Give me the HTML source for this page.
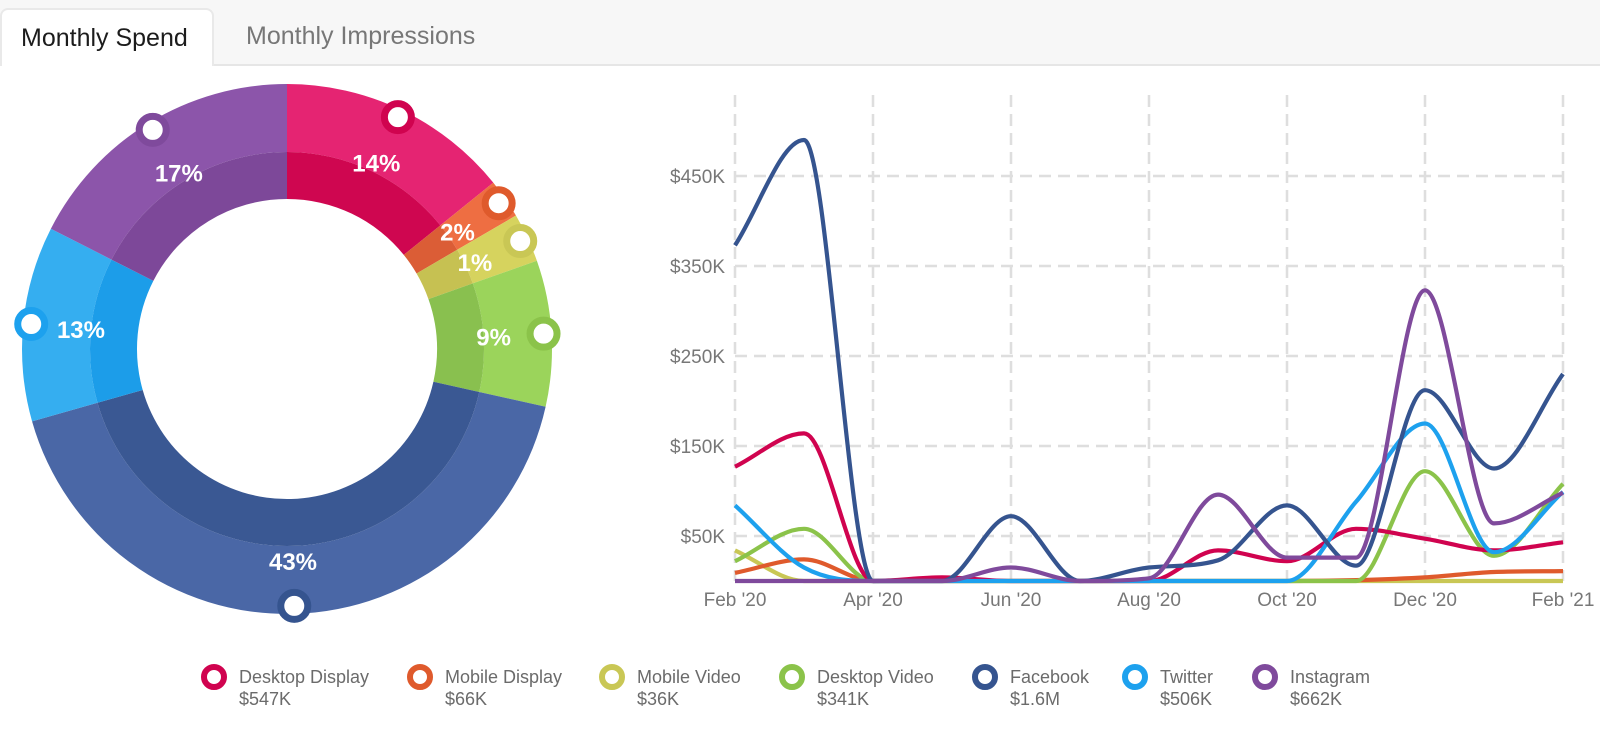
<!DOCTYPE html>
<html><head><meta charset="utf-8"><style>
body{margin:0;width:1600px;height:732px;background:#fff;font-family:"Liberation Sans",sans-serif;overflow:hidden;position:relative}
.tabs{position:absolute;left:0;top:0;width:1600px;height:64px;background:#f7f7f7;border-bottom:2px solid #e6e6e6}
.tab{position:absolute;font-size:25px;line-height:56px}
.tab.active{left:0;top:8px;width:214px;height:58px;background:#fff;border:2px solid #e9e9e9;border-bottom:none;border-radius:8px 8px 0 0;color:#1c1c1c;box-sizing:border-box;padding-left:19px}
.tab.in{left:246px;top:8px;color:#777}
svg{position:absolute;left:0;top:0}
.leg{position:absolute;top:666px;font-size:18px;color:#6b6b6b;line-height:22px}
.leg i{position:absolute;top:-2px;width:14px;height:14px;border:6.5px solid;border-radius:50%}
</style></head><body>
<div class="tabs">
<div class="tab active">Monthly Spend</div>
<div class="tab in">Monthly Impressions</div>
</div>
<svg id="s" width="1600" height="732"></svg>
<div id="legend"></div>
<script>
const channels=["Desktop Display","Mobile Display","Mobile Video","Desktop Video","Facebook","Twitter","Instagram"];
const totalLabels=["$547K","$66K","$36K","$341K","$1.6M","$506K","$662K"];
const pctLabels=["14%","2%","1%","9%","43%","13%","17%"];
const sliceShares=[14.2,2.4,3.0,8.9,42.1,11.9,17.5];
const months=["Feb '20","Mar","Apr '20","May","Jun '20","Jul","Aug '20","Sep","Oct '20","Nov","Dec '20","Jan","Feb '21"];
const desktopDisplay=[127,164,0,4,0,0,0,34,22,58,47,34,43];
const mobileDisplay=[9,24,0,0,0,0,0,0,0,1,4,10,11];
const mobileVideo=[34,0,0,0,0,0,0,0,0,0,0,0,0];
const desktopVideo=[22,58,0,0,0,0,0,0,0,0,122,28,108];
const facebook=[373,490,0,0,72,0,15,23,84,17,212,125,230];
const twitter=[84,15,0,0,0,0,0,0,0,88,175,32,99];
const instagram=[0,0,0,0,15,0,3,96,26,26,323,64,98];
const yTicks=[50,150,250,350,450];
const colors=["#d0034f","#df5a2c","#c9c755","#8bc34a","#35548f","#1da1ee","#7f4a9c"];
const light=["#e52472","#ee6e42","#d6d35e","#9bd45b","#4a67a6","#35aef0","#8c55aa"];
const dark=["#cf0650","#db5d36","#c6c152","#89c04f","#3a5893","#1c9de9","#7d4899"];
const NS="http://www.w3.org/2000/svg";
const svg=document.getElementById('s');
function mk(t,a,p){const e=document.createElementNS(NS,t);for(const k in a)e.setAttribute(k,a[k]);(p||svg).appendChild(e);return e;}
// donut
const cx=287,cy=349,R=265,RM=197,RI=150;
const sum=sliceShares.reduce((a,b)=>a+b,0);
function pt(r,a){return [cx+r*Math.sin(a),cy-r*Math.cos(a)];}
function arc(r0,r1,a0,a1){const l=(a1-a0)>Math.PI?1:0;const p1=pt(r1,a0),p2=pt(r1,a1),p3=pt(r0,a1),p4=pt(r0,a0);
return `M${p1}A${r1},${r1} 0 ${l} 1 ${p2}L${p3}A${r0},${r0} 0 ${l} 0 ${p4}Z`;}
let a=0;const mids=[];
sliceShares.forEach((v,i)=>{const a1=a+v/sum*2*Math.PI;
const g=mk('g',{});


mk('path',{d:arc(RM,R,a,a1),fill:light[i]},g);
mk('path',{d:arc(RI,RM,a,a1),fill:dark[i]},g);
mids.push((a+a1)/2);a=a1;});
sliceShares.forEach((v,i)=>{const p=pt(i===4?212:207,mids[i]);
const t=mk('text',{x:p[0],y:p[1]+9,'text-anchor':'middle','font-size':24,'font-weight':'bold',fill:'#fff'});


t.textContent=pctLabels[i];});
sliceShares.forEach((v,i)=>{const p=pt(257,mids[i]);
const c=mk('circle',{cx:p[0],cy:p[1],r:13.5,fill:'#fff',stroke:colors[i],'stroke-width':7});

});
// line chart
const x0=735,x1=1563,y0=581,ppk=0.9;
const X=i=>x0+(x1-x0)*i/(months.length-1);
const Y=v=>y0-v*ppk;
for(let i=0;i<months.length;i+=2){const l=mk('line',{x1:X(i),x2:X(i),y1:95,y2:y0,stroke:'#dedede','stroke-width':2.5,'stroke-dasharray':'12,7'});


const t=mk('text',{x:X(i),y:606,'text-anchor':'middle','font-size':19,fill:'#777'});


t.textContent=months[i];}
yTicks.forEach(v=>{const l=mk('line',{x1:x0,x2:x1,y1:Y(v),y2:Y(v),stroke:'#dedede','stroke-width':2.5,'stroke-dasharray':'12,7'});


const t=mk('text',{x:725,y:Y(v)+7,'text-anchor':'end','font-size':19,fill:'#777'});


t.textContent='$'+v+'K';});
function mono(pts){const n=pts.length,d=[],m=[];
for(let i=0;i<n-1;i++)d.push((pts[i+1][1]-pts[i][1])/(pts[i+1][0]-pts[i][0]));
for(let i=0;i<n;i++){if(i===0)m.push(d[0]);else if(i===n-1)m.push(d[n-2]);else m.push(d[i-1]*d[i]<=0?0:(d[i-1]+d[i])/2);}
for(let i=0;i<n-1;i++){if(d[i]===0){m[i]=0;m[i+1]=0;continue;}const al=m[i]/d[i],be=m[i+1]/d[i],s=al*al+be*be;if(s>9){const t=3/Math.sqrt(s);m[i]=t*al*d[i];m[i+1]=t*be*d[i];}}
let s=`M${pts[0]}`;for(let i=0;i<n-1;i++){const h=(pts[i+1][0]-pts[i][0])/3;
s+=`C${pts[i][0]+h},${pts[i][1]+m[i]*h} ${pts[i+1][0]-h},${pts[i+1][1]-m[i+1]*h} ${pts[i+1]}`;}return s;}
const series=[desktopDisplay,mobileDisplay,mobileVideo,desktopVideo,facebook,twitter,instagram];
const order=[2,1,3,0,5,4,6];
order.forEach(i=>{const p=mk('path',{d:mono(series[i].map((v,j)=>[X(j),Y(v)])),fill:'none',stroke:colors[i],'stroke-width':4.2,'stroke-linejoin':'round'});

});
// legend
const lx=[214,420,612,792,985,1135,1265];
const lg=document.getElementById('legend');
channels.forEach((c,i)=>{const d=document.createElement('div');d.className='leg';d.style.left=(lx[i]+25)+'px';


d.innerHTML=`<i style="border-color:${colors[i]};left:-38px"></i>${c}<br>${totalLabels[i]}`;lg.appendChild(d);});
</script>
</body></html>
